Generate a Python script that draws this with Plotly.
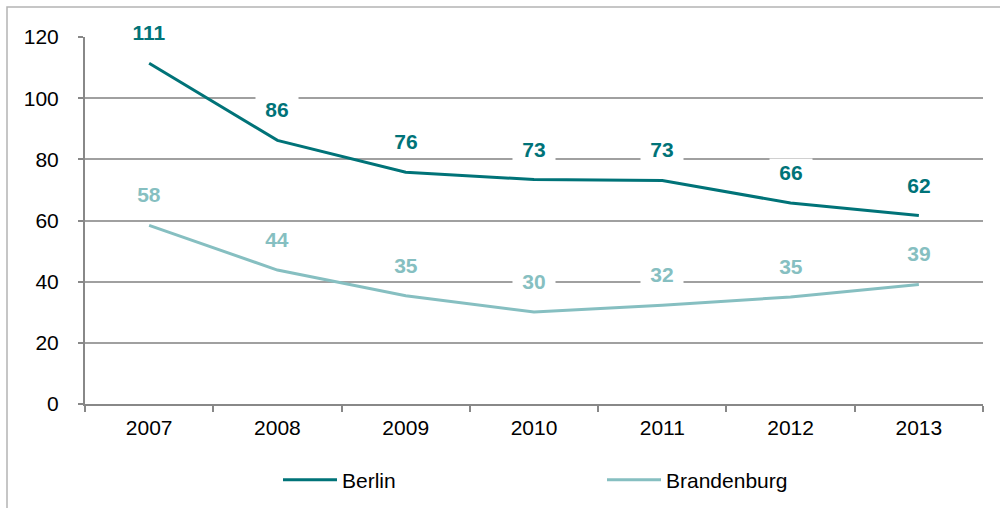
import plotly.graph_objects as go

years = ["2007", "2008", "2009", "2010", "2011", "2012", "2013"]
berlin = [111.4, 86.2, 75.8, 73.4, 73.1, 65.7, 61.6]
brandenburg = [58.4, 43.8, 35.4, 30.1, 32.3, 35.0, 39.1]
berlin_labels = ["111", "86", "76", "73", "73", "66", "62"]
brandenburg_labels = ["58", "44", "35", "30", "32", "35", "39"]

C_BER = "#007378"
C_BRA = "#86BFC1"
FONT = "Liberation Sans, Arial, sans-serif"

L, R, T, B = 85, 17, 37, 104
W, H = 1000, 508
PW = W - L - R
PH = H - T - B

fig = go.Figure()
fig.add_trace(go.Scatter(x=years, y=berlin, mode="lines", name="Berlin",
                         line=dict(color=C_BER, width=3), legend="legend"))
fig.add_trace(go.Scatter(x=years, y=brandenburg, mode="lines", name="Brandenburg",
                         line=dict(color=C_BRA, width=3), legend="legend2"))

ann = []
for ys, ts, col in [(berlin, berlin_labels, C_BER),
                    (brandenburg, brandenburg_labels, C_BRA)]:
    for i, (y, t) in enumerate(zip(ys, ts)):
        ann.append(dict(x=i, y=y, xref="x", yref="y", text="<b>" + t + "</b>",
                        showarrow=False, yshift=31, bgcolor="white", borderpad=2,
                        width=12 * len(t) + 14, height=22,
                        font=dict(family=FONT, size=21, color=col)))

legend_common = dict(orientation="h", xanchor="left", yanchor="middle",
                     y=(H - B - 480) / PH, font=dict(size=21, color="black"),
                     bgcolor="rgba(0,0,0,0)", itemwidth=54)

fig.update_layout(
    width=W, height=H,
    margin=dict(l=L, r=R, t=T, b=B, autoexpand=False),
    paper_bgcolor="white", plot_bgcolor="white",
    font=dict(family=FONT, size=21, color="black"),
    annotations=ann,
    showlegend=True,
    legend=dict(legend_common, x=(278 - L) / PW),
    legend2=dict(legend_common, x=(602 - L) / PW),
    xaxis=dict(type="category", range=[-0.5, 6.5], tickson="boundaries",
               ticks="outside", ticklen=6, tickcolor="#888888", tickwidth=1.5,
               showline=True, linecolor="#888888", linewidth=2, showgrid=False,
               tickfont=dict(size=21), ticklabelstandoff=4),
    yaxis=dict(range=[0, 120], dtick=20, ticks="outside", ticklen=5,
               tickcolor="#888888", tickwidth=1.5,
               showline=True, linecolor="#888888", linewidth=2,
               showgrid=True, gridcolor="#a0a0a0", gridwidth=1.5,
               zeroline=False, tickfont=dict(size=21), ticklabelstandoff=15),
    shapes=[dict(type="rect", xref="paper", yref="paper",
                 x0=(7 - L) / PW, x1=(1010 - L) / PW,
                 y0=(H - B - 520) / PH, y1=(H - B - 7) / PH,
                 line=dict(color="#b4b4b4", width=1.5), layer="below")],
)

fig.write_html("out.html")
